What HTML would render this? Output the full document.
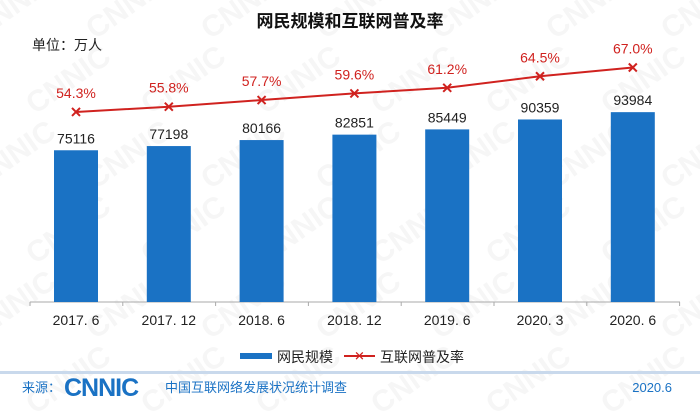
<!DOCTYPE html>
<html><head><meta charset="utf-8"><style>
body{margin:0;background:#fff;}
svg{display:block;font-family:"Liberation Sans","Noto Sans CJK SC",sans-serif;}
</style></head><body>
<svg id="c" width="700" height="411" viewBox="0 0 700 411">
<g id="wm"></g>
<text x="350" y="27" text-anchor="middle" font-size="17" font-weight="bold" fill="#111">网民规模和互联网普及率</text>
<text x="32" y="50" font-size="14" fill="#222">单位：万人</text>
<line x1="30" y1="302" x2="680" y2="302" stroke="#aaa" stroke-width="1"/>
<g id="bars"></g><g id="line"></g><g id="xt"></g>
<g>
<rect x="240" y="353" width="32" height="6" fill="#1a72c4"/>
<text x="277" y="362" font-size="14" fill="#222">网民规模</text>
<line x1="344" y1="356" x2="375" y2="356" stroke="#d0221f" stroke-width="2"/>
<text x="359.5" y="360.5" text-anchor="middle" font-size="13" fill="#d0221f">✕</text>
<text x="380" y="362" font-size="14" fill="#222">互联网普及率</text>
</g>
<rect x="0" y="371" width="700" height="3" fill="#c9d9ec"/>
<text x="22" y="392" font-size="13" fill="#1a72c4">来源：</text>
<text x="64" y="396" font-size="25" font-weight="bold" fill="#1a72c4" letter-spacing="-1">CNNIC</text>
<text x="165" y="392" font-size="13" fill="#1a72c4">中国互联网络发展状况统计调查</text>
<text x="672" y="392" text-anchor="end" font-size="13" fill="#1a72c4">2020.6</text>
</svg>
<script>
const categories=["2017. 6","2017. 12","2018. 6","2018. 12","2019. 6","2020. 3","2020. 6"];
const users=[75116,77198,80166,82851,85449,90359,93984];
const rates=[54.3,55.8,57.7,59.6,61.2,64.5,67.0];
const NS="http://www.w3.org/2000/svg";
function mk(t,a,p){const e=document.createElementNS(NS,t);for(const k in a)e.setAttribute(k,a[k]);p.appendChild(e);return e;}
const base=302;
const x=i=>76+i*92.8;
const yb=v=>base-v*0.00202;
const yr=v=>base-v*3.5;
const wm=document.getElementById('wm');
for(let r=0;r<6;r++)for(let c=0;c<7;c++){
 const t=mk('text',{x:c*115-20+(r%2)*55,y:r*75+40,'font-size':30,'font-weight':'bold',fill:'#f6f6f6',transform:`rotate(-35 ${c*115-20+(r%2)*55} ${r*75+40})`},wm);
 t.textContent='CNNIC';
}
const bars=document.getElementById('bars'),line=document.getElementById('line'),xt=document.getElementById('xt');
for(let i=0;i<=7;i++){mk('line',{x1:30+i*92.8,y1:base,x2:30+i*92.8,y2:base+4,stroke:'#aaa'},xt);}
users.forEach((v,i)=>{
 const r=mk('rect',{x:x(i)-22,y:yb(v),width:44,height:base-yb(v),fill:'#1a72c4'},bars);
 
 
 const t=mk('text',{x:x(i),y:yb(v)-7,'text-anchor':'middle','font-size':14,fill:'#222'},bars);
 t.textContent=v;
 
 
 const c=mk('text',{x:x(i),y:325,'text-anchor':'middle','font-size':14,fill:'#222'},xt);
 c.textContent=categories[i];
 
 
});
const pl=mk('polyline',{points:rates.map((v,i)=>x(i)+','+yr(v)).join(' '),fill:'none',stroke:'#d0221f','stroke-width':2},line);


rates.forEach((v,i)=>{
 const px=x(i),py=yr(v);
 const m=mk('path',{d:`M${px-4} ${py-4}L${px+4} ${py+4}M${px-4} ${py+4}L${px+4} ${py-4}`,stroke:'#d0221f','stroke-width':2},line);
 
 
 const t=mk('text',{x:px,y:py-14,'text-anchor':'middle','font-size':14,fill:'#d0221f'},line);
 t.textContent=v.toFixed(1)+'%';
 
 
});
</script>
</body></html>
